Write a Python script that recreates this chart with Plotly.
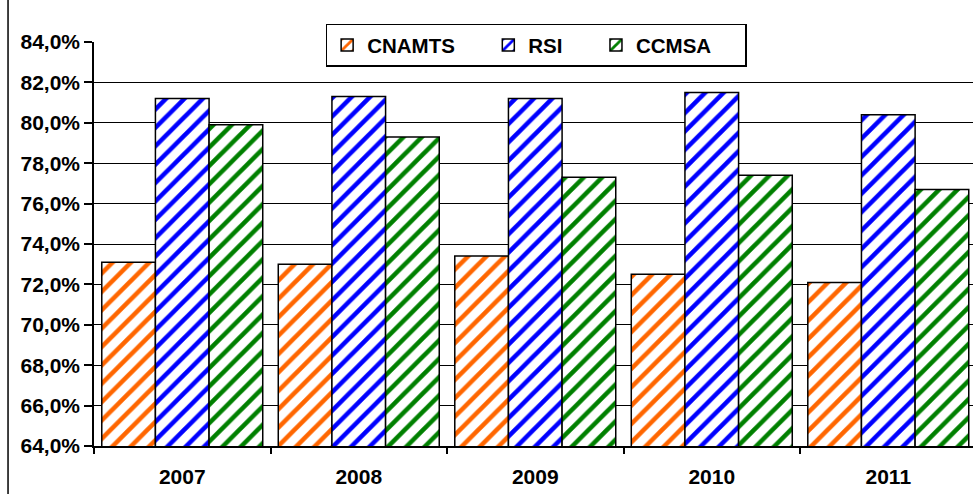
import plotly.graph_objects as go

# Share of beneficiaries by scheme, 2007-2011 (%)
years = ["2007", "2008", "2009", "2010", "2011"]
cnamts = [73.1, 73.0, 73.4, 72.5, 72.1]
rsi = [81.2, 81.3, 81.2, 81.5, 80.4]
ccmsa = [79.9, 79.3, 77.3, 77.4, 76.7]

series = [
    ("CNAMTS", cnamts, "#FF6600"),
    ("RSI", rsi, "#0000FF"),
    ("CCMSA", ccmsa, "#008000"),
]

FONT = "Arial, Liberation Sans, sans-serif"
PAD = "\u00a0" * 5  # extra room after each legend label

fig = go.Figure()
for name, vals, col in series:
    fig.add_trace(go.Bar(
        x=years, y=vals, name=name + PAD,
        marker=dict(
            color="white",
            line=dict(color="black", width=1.5),
            pattern=dict(shape="/", fgcolor=col, bgcolor="white", fgopacity=1,
                         size=13, solidity=0.35, fillmode="overlay"),
        ),
    ))

fig.update_layout(
    width=973, height=494, autosize=False,
    margin=dict(l=94, r=0, t=42, b=48),
    paper_bgcolor="white", plot_bgcolor="white",
    barmode="group", bargap=0.088, bargroupgap=0,
    separators=", ",
    font=dict(family=FONT, color="black"),
    legend=dict(
        orientation="h", x=0.503, xanchor="center", y=0.992, yanchor="middle",
        bgcolor="white", bordercolor="black", borderwidth=1.5,
        font=dict(family=FONT, size=20.5, weight="bold", color="black"),
        itemwidth=30,
    ),
    shapes=[dict(type="line", xref="paper", yref="paper",
                 x0=-0.0978, x1=-0.0978, y0=-0.2, y1=1.2,
                 line=dict(color="black", width=1.5))],
)

fig.update_xaxes(
    range=[-0.5, 4.48],
    showline=True, linecolor="black", linewidth=1.5,
    ticks="outside", tickson="boundaries", ticklen=6, tickcolor="black", tickwidth=1.5,
    ticklabelstandoff=11,
    tickfont=dict(family=FONT, size=21, weight="bold", color="black"),
    showgrid=False,
)

fig.update_yaxes(
    range=[64, 84], dtick=2, tick0=64,
    tickformat=".1f", ticksuffix="%",
    showline=True, linecolor="black", linewidth=1.5,
    ticks="outside", ticklen=8, tickcolor="black", tickwidth=1.5,
    showgrid=True, gridcolor="black", gridwidth=1.3,
    tickfont=dict(family=FONT, size=21, weight="bold", color="black"),
    zeroline=False,
)

fig.write_html("out.html")
